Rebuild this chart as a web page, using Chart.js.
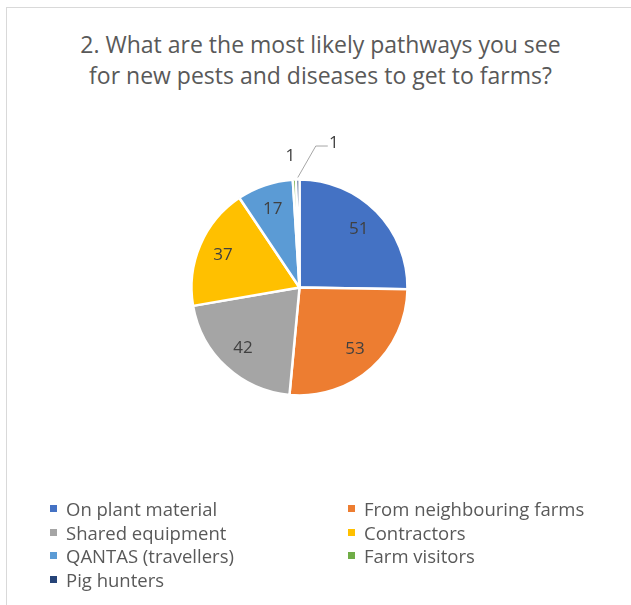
<!DOCTYPE html>
<html>
<head>
<meta charset="utf-8">
<script src="https://cdn.jsdelivr.net/npm/chart.js@4.4.0/dist/chart.umd.min.js"></script>
<style>
  html, body { margin: 0; padding: 0; background: #fff; }
  body { width: 631px; height: 605px; position: relative; overflow: hidden; font-family: "Open Sans", "Liberation Sans", sans-serif; }
  #frame { position: absolute; left: 6px; top: 7px; width: 640px; height: 620px; border-top: 1px solid #D9D9D9; border-left: 1px solid #D9D9D9; }
  #title { position: absolute; left: 0; width: 641px; top: 29px; text-align: center; color: #595959; font-size: 23px; line-height: 31px; }
  #c { position: absolute; left: 0; top: 0; }
  #legend { position: absolute; left: 47px; top: 497px; display: grid; grid-template-columns: 298px 260px; grid-auto-rows: 23.5px; color: #595959; font-size: 18.5px; }
  .item { display: flex; align-items: center; white-space: nowrap; }
  .sw { width: 7px; height: 7px; margin-right: 9px; margin-left: 3px; }
</style>
</head>
<body>
<div id="frame"></div>
<div id="title"></div>
<canvas id="c" width="631" height="605"></canvas>
<div id="legend"></div>
<script>
const titleLines = ["2. What are the most likely pathways you see", "for new pests and diseases to get to farms?"];
const categories = ["On plant material", "From neighbouring farms", "Shared equipment", "Contractors", "QANTAS (travellers)", "Farm visitors", "Pig hunters"];
const values = [51, 53, 42, 37, 17, 1, 1];
const colors = ["#4472C4", "#ED7D31", "#A5A5A5", "#FFC000", "#5B9BD5", "#70AD47", "#264478"];

document.getElementById('title').innerHTML = titleLines.join('<br>');
const leg = document.getElementById('legend');
categories.forEach((c, i) => {
  const d = document.createElement('div');
  d.className = 'item';
  d.innerHTML = '<span class="sw" style="background:' + colors[i] + '"></span><span>' + c + '</span>';
  leg.appendChild(d);
});

const labelPlugin = {
  id: 'sliceLabels',
  afterDatasetsDraw(chart) {
    const ctx = chart.ctx;
    const meta = chart.getDatasetMeta(0);
    const total = values.reduce((a, b) => a + b, 0);
    ctx.save();
    ctx.font = '17px "Open Sans", sans-serif';
    ctx.fillStyle = '#404040';
    ctx.textAlign = 'center';
    ctx.textBaseline = 'middle';
    let smallCount = 0;
    meta.data.forEach((arc, i) => {
      const p = arc.getProps(['x', 'y', 'startAngle', 'endAngle', 'outerRadius']);
      const mid = (p.startAngle + p.endAngle) / 2;
      const r = p.outerRadius;
      const txt = String(values[i]);
      if (values[i] / total > 0.03) {
        ctx.fillText(txt, p.x + Math.cos(mid) * r * 0.77, p.y + Math.sin(mid) * r * 0.77);
      } else if (smallCount === 0) {
        smallCount++;
        ctx.fillText(txt, p.x + Math.cos(mid) * r * 1.22 - 3, p.y + Math.sin(mid) * r * 1.22);
      } else {
        smallCount++;
        const sx = p.x + Math.cos(mid) * (r + 2), sy = p.y + Math.sin(mid) * (r + 2);
        const ex = sx + 18, ey = p.y - r * 1.31;
        ctx.strokeStyle = '#A6A6A6';
        ctx.lineWidth = 1;
        ctx.beginPath();
        ctx.moveTo(sx, sy);
        ctx.lineTo(ex, ey);
        ctx.lineTo(ex + 12, ey);
        ctx.stroke();
        ctx.fillText(txt, ex + 18, ey - 3);
      }
    });
    ctx.restore();
  }
};

new Chart(document.getElementById('c'), {
  type: 'pie',
  data: {
    labels: categories,
    datasets: [{
      data: values,
      backgroundColor: colors,
      borderColor: '#FFFFFF',
      borderWidth: 2.5
    }]
  },
  options: {
    responsive: false,
    animation: false,
    radius: 108,
    layout: { padding: { left: 0, right: 32, top: 100, bottom: 130 } },
    plugins: {
      legend: { display: false },
      title: { display: false },
      tooltip: { enabled: false }
    }
  },
  plugins: [labelPlugin]
});
</script>
</body>
</html>
